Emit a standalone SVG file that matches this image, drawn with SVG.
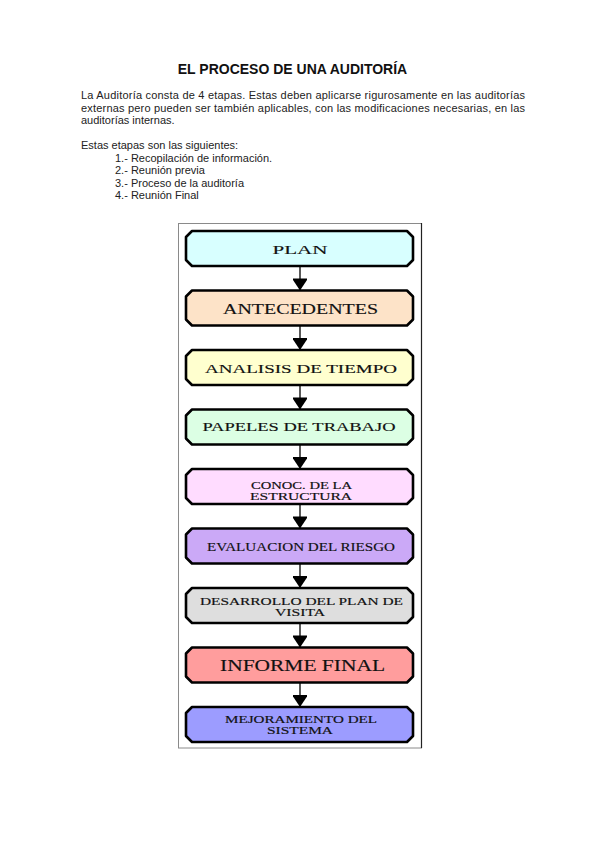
<svg xmlns="http://www.w3.org/2000/svg" width="599" height="848" viewBox="0 0 599 848">
<style>
.title{font-family:"Liberation Sans",Arial,sans-serif;font-weight:bold;font-size:14px;fill:#111}
.body{font-family:"Liberation Sans",Arial,sans-serif;font-size:11px;fill:#222}
.lbl{font-family:"Liberation Serif","Times New Roman",serif;fill:#111;stroke:#111;stroke-width:0.15;text-anchor:middle}
.bx{stroke:#000;stroke-width:2.6;stroke-linejoin:round}
.conn{stroke:#000;stroke-width:1.3;fill:none}
</style>
<defs>
<path id="box" d="M192,0 L407,0 L413,6 L413,29 L407,35 L192,35 L186,29 L186,6 Z"/>
<marker id="ah" markerUnits="userSpaceOnUse" markerWidth="18" markerHeight="14" refX="16" refY="7" orient="auto" viewBox="0 0 18 14">
<path d="M4,-1 L16,7 L4,15 Z" fill="#000"/>
</marker>
</defs>
<rect width="599" height="848" fill="#fff"/>
<text class="title" x="292.5" y="74" text-anchor="middle">EL PROCESO DE UNA AUDITORÍA</text>
<text class="body" x="81" y="99" textLength="444" lengthAdjust="spacing">La Auditoría consta de 4 etapas. Estas deben aplicarse rigurosamente en las auditorías</text>
<text class="body" x="81" y="111.5" textLength="444" lengthAdjust="spacing">externas pero pueden ser también aplicables, con las modificaciones necesarias, en las</text>
<text class="body" x="81" y="124">auditorías internas.</text>
<text class="body" x="81" y="148.5">Estas etapas son las siguientes:</text>
<text class="body" x="115" y="161.5">1.- Recopilación de información.</text>
<text class="body" x="115" y="174">2.- Reunión previa</text>
<text class="body" x="115" y="186.5">3.- Proceso de la auditoría</text>
<text class="body" x="115" y="199">4.- Reunión Final</text>
<g id="frame">
<rect x="178.5" y="223.5" width="243" height="524.5" fill="none" stroke="#8a8a8a" stroke-width="1"/>
<line x1="421.5" y1="223" x2="421.5" y2="748" stroke="#222" stroke-width="1.2"/>
</g>
<g id="connectors">
<line class="conn" x1="300" y1="266" x2="300" y2="290.5" marker-end="url(#ah)"/>
<line class="conn" x1="300" y1="325.5" x2="300" y2="350" marker-end="url(#ah)"/>
<line class="conn" x1="300" y1="385" x2="300" y2="409.5" marker-end="url(#ah)"/>
<line class="conn" x1="300" y1="444.5" x2="300" y2="469" marker-end="url(#ah)"/>
<line class="conn" x1="300" y1="504" x2="300" y2="528.5" marker-end="url(#ah)"/>
<line class="conn" x1="300" y1="563.5" x2="300" y2="588" marker-end="url(#ah)"/>
<line class="conn" x1="300" y1="623" x2="300" y2="647.5" marker-end="url(#ah)"/>
<line class="conn" x1="300" y1="682.5" x2="300" y2="707" marker-end="url(#ah)"/>
</g>
<g id="n1"><use href="#box" class="bx" fill="#d8ffff" transform="translate(0,231)"/>
<text class="lbl" x="300" y="253.5" font-size="13" textLength="55" lengthAdjust="spacingAndGlyphs">PLAN</text></g>
<g id="n2"><use href="#box" class="bx" fill="#fde3c8" transform="translate(0,290.5)"/>
<text class="lbl" x="300.5" y="313.5" font-size="15" textLength="155" lengthAdjust="spacingAndGlyphs">ANTECEDENTES</text></g>
<g id="n3"><use href="#box" class="bx" fill="#ffffcf" transform="translate(0,350)"/>
<text class="lbl" x="301" y="372.5" font-size="12.5" textLength="192" lengthAdjust="spacingAndGlyphs">ANALISIS DE TIEMPO</text></g>
<g id="n4"><use href="#box" class="bx" fill="#dcffe4" transform="translate(0,409.5)"/>
<text class="lbl" x="299" y="431" font-size="12.5" textLength="193" lengthAdjust="spacingAndGlyphs">PAPELES DE TRABAJO</text></g>
<g id="n5"><use href="#box" class="bx" fill="#ffdcff" transform="translate(0,469)"/>
<text class="lbl" x="301.5" y="488.5" font-size="10" textLength="101" lengthAdjust="spacingAndGlyphs">CONOC. DE LA</text>
<text class="lbl" x="301" y="499.5" font-size="10" textLength="102" lengthAdjust="spacingAndGlyphs">ESTRUCTURA</text></g>
<g id="n6"><use href="#box" class="bx" fill="#cba9f7" transform="translate(0,528.5)"/>
<text class="lbl" x="301" y="550.5" font-size="12.5" textLength="188" lengthAdjust="spacingAndGlyphs">EVALUACION DEL RIESGO</text></g>
<g id="n7"><use href="#box" class="bx" fill="#dedede" transform="translate(0,588)"/>
<text class="lbl" x="301.5" y="605" font-size="10" textLength="203" lengthAdjust="spacingAndGlyphs">DESARROLLO DEL PLAN DE</text>
<text class="lbl" x="300" y="615.5" font-size="10" textLength="50" lengthAdjust="spacingAndGlyphs">VISITA</text></g>
<g id="n8"><use href="#box" class="bx" fill="#ff9d9d" transform="translate(0,647.5)"/>
<text class="lbl" x="302.5" y="671" font-size="17" textLength="165" lengthAdjust="spacingAndGlyphs">INFORME FINAL</text></g>
<g id="n9"><use href="#box" class="bx" fill="#9c9cff" transform="translate(0,707)"/>
<text class="lbl" x="301" y="722.5" font-size="10" textLength="152" lengthAdjust="spacingAndGlyphs">MEJORAMIENTO DEL</text>
<text class="lbl" x="300" y="733.5" font-size="10" textLength="66" lengthAdjust="spacingAndGlyphs">SISTEMA</text></g>
</svg>
